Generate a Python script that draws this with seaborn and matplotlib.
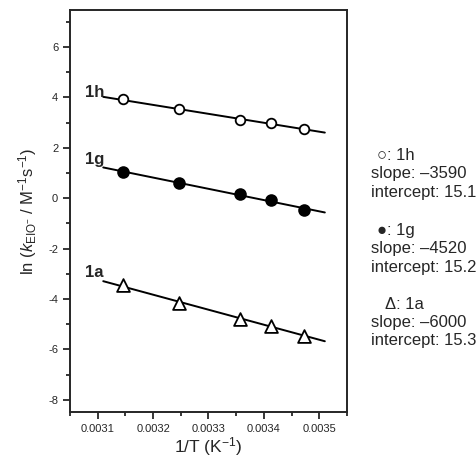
import numpy as np
import pandas as pd
import matplotlib
matplotlib.use("Agg")
import matplotlib.pyplot as plt
import seaborn as sns
from matplotlib.ticker import MultipleLocator

# ---- data ----
inv_T = [0.003145, 0.003247, 0.003356, 0.003413, 0.003472]
ln_k_1h = [3.92, 3.53, 3.10, 2.97, 2.76]
ln_k_1g = [1.05, 0.61, 0.15, -0.08, -0.45]
ln_k_1a = [-3.46, -4.16, -4.78, -5.05, -5.45]
series_names = ["1h", "1g", "1a"]
fit_range = [0.00311, 0.00351]
legend_symbols = ["\u25cb", "\u25cf", "\u0394"]
legend_slopes = ["\u20133590", "\u20134520", "\u20136000"]
legend_intercepts = ["15.1", "15.2", "15.3"]
xticks = [0.0031, 0.0032, 0.0033, 0.0034, 0.0035]
yticks = [-8, -6, -4, -2, 0, 2, 4, 6]

sns.set_style("ticks")
plt.rcParams["font.family"] = ["Liberation Sans", "DejaVu Sans"]
plt.rcParams["axes.unicode_minus"] = False
plt.rcParams["mathtext.fontset"] = "custom"
plt.rcParams["mathtext.rm"] = "Liberation Sans"
plt.rcParams["mathtext.it"] = "Liberation Sans:italic"
plt.rcParams["mathtext.bf"] = "Liberation Sans:bold"

W, H = 476, 461
fig = plt.figure(figsize=(W / 100, H / 100), dpi=100)
ax = fig.add_axes([70 / W, 1 - 412 / H, 277 / W, 402 / H])

df = pd.DataFrame({
    "x": inv_T * 3,
    "y": ln_k_1h + ln_k_1g + ln_k_1a,
    "s": [n for n in series_names for _ in inv_T],
})

styles = {
    "1h": dict(marker="o", facecolor="white", size=48),
    "1g": dict(marker="o", facecolor="black", size=60),
    "1a": dict(marker="^", facecolor="white", size=85),
}

for name in series_names:
    sub = df[df["s"] == name]
    k, b = np.polyfit(sub["x"], sub["y"], 1)
    xf = np.array(fit_range)
    sns.lineplot(x=xf, y=k * xf + b, ax=ax, color="black", lw=1.4, zorder=2)
    st = styles[name]
    sns.scatterplot(x=sub["x"], y=sub["y"], ax=ax, marker=st["marker"],
                    s=st["size"], facecolor=st["facecolor"], edgecolor="black",
                    linewidth=1.3, zorder=3, legend=False)

# series labels
lab_pos = {"1h": 4.21, "1g": 1.55, "1a": -2.94}
for name in series_names:
    ax.text(0.003077, lab_pos[name], name, fontsize=12, fontweight="bold",
            ha="left", va="center")

ax.set_xlim(0.00305, 0.00355)
ax.set_ylim(-8.48, 7.47)
ax.set_xticks(xticks)
ax.set_xticklabels([f"{t:.4f}" for t in xticks])
ax.set_yticks(yticks)
ax.xaxis.set_minor_locator(MultipleLocator(0.00005))
ax.yaxis.set_minor_locator(MultipleLocator(1))
ax.tick_params(which="major", direction="out", length=5, width=1.3,
               labelsize=8, top=False, right=False)
ax.tick_params(which="minor", direction="out", length=3, width=1.3,
               top=False, right=False)
for sp in ax.spines.values():
    sp.set_linewidth(1.4)
    sp.set_visible(True)

ax.set_xlabel("1/T (K$^{-1}$)", fontsize=12.5)
ax.set_ylabel(r"ln ($k_{\mathrm{EIO}^{-}}$ / M$^{-1}$s$^{-1}$)", fontsize=12)
ax.xaxis.set_label_coords(0.5, -(447 - 412) / 402)
ax.xaxis.label.set_va("center")
ax.yaxis.set_label_coords(-(70 - 28) / 277, 0.5)
ax.yaxis.label.set_va("center")

# right-hand annotation block
group_y = [155, 230, 304]
for i, name in enumerate(series_names):
    y0 = group_y[i]
    indent = 385 if legend_symbols[i] == "\u0394" else 377
    fig.text(indent / W, 1 - y0 / H, f"{legend_symbols[i]}: {name}",
             fontsize=12, ha="left", va="center")
    fig.text(371 / W, 1 - (y0 + 18.5) / H, f"slope: {legend_slopes[i]}",
             fontsize=12, ha="left", va="center")
    fig.text(371 / W, 1 - (y0 + 37) / H, f"intercept: {legend_intercepts[i]}",
             fontsize=12, ha="left", va="center")

fig.savefig("out.png", dpi=100)
